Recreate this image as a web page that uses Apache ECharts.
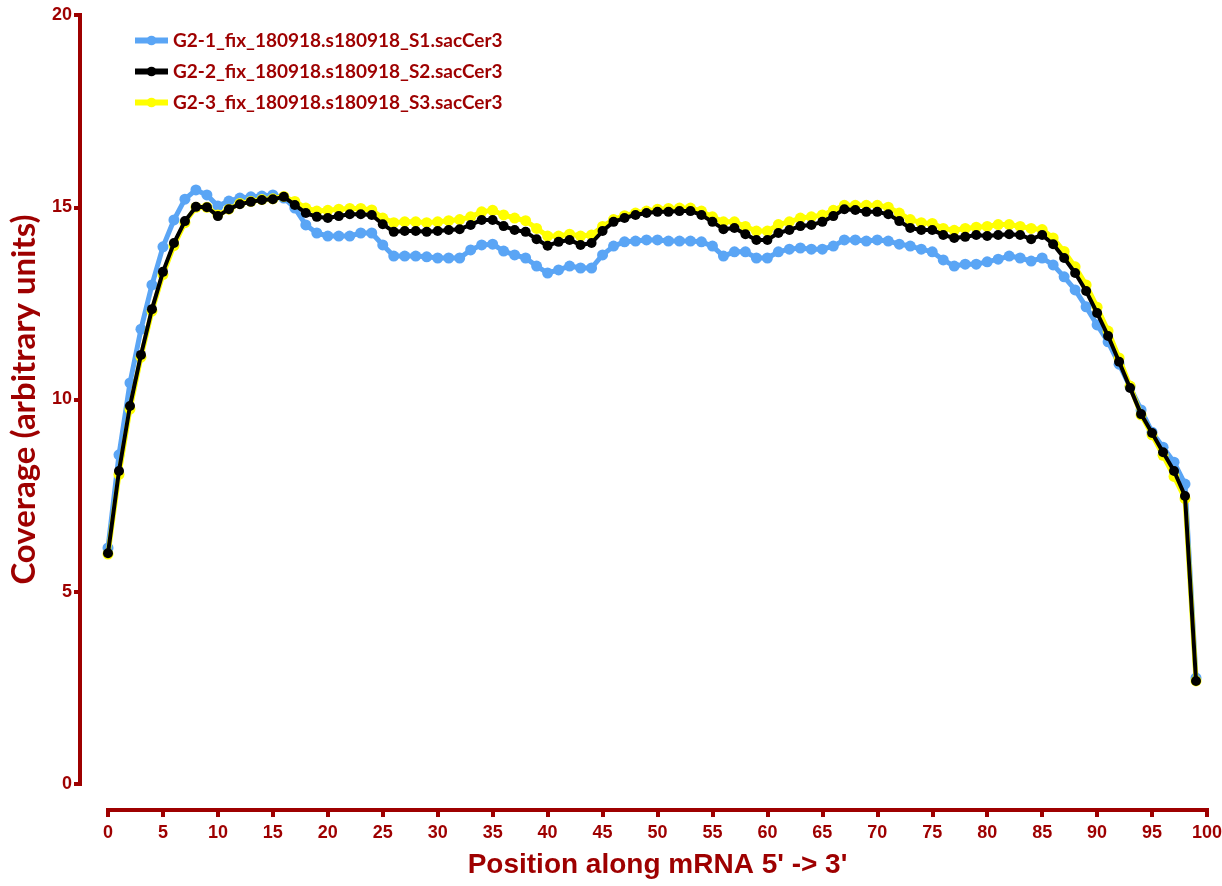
<!DOCTYPE html>
<html>
<head>
<meta charset="utf-8">
<title>Coverage along mRNA</title>
<script src="https://cdn.jsdelivr.net/npm/echarts@6/dist/echarts.min.js"></script>
<style>
  html, body { margin: 0; padding: 0; background: #fff; }
  #chart { width: 1222px; height: 886px; }
</style>
</head>
<body>
<div id="chart"></div>
<script>
// position along mRNA (0..99)
var positions = [];
for (var i = 0; i < 100; i++) positions.push(i);

var seriesNames = [
  'G2-1_fix_180918.s180918_S1.sacCer3',
  'G2-2_fix_180918.s180918_S2.sacCer3',
  'G2-3_fix_180918.s180918_S3.sacCer3'
];

var s1 = [6.14, 8.56, 10.43, 11.83, 12.98, 13.97, 14.67, 15.21, 15.45, 15.32,
  15.03, 15.16, 15.24, 15.27, 15.29, 15.32, 15.24, 14.98, 14.54, 14.33,
  14.25, 14.25, 14.25, 14.33, 14.33, 14.02, 13.73, 13.73, 13.73, 13.71,
  13.68, 13.68, 13.68, 13.89, 14.02, 14.04, 13.86, 13.76, 13.68, 13.47,
  13.29, 13.37, 13.47, 13.42, 13.42, 13.76, 13.99, 14.10, 14.12, 14.15,
  14.15, 14.12, 14.12, 14.12, 14.10, 13.99, 13.73, 13.84, 13.84, 13.68,
  13.68, 13.84, 13.91, 13.94, 13.91, 13.91, 13.99, 14.15, 14.15, 14.12,
  14.15, 14.12, 14.04, 13.99, 13.91, 13.84, 13.63, 13.47, 13.52, 13.52,
  13.58, 13.65, 13.73, 13.68, 13.60, 13.68, 13.50, 13.19, 12.85, 12.41,
  11.94, 11.50, 10.92, 10.33, 9.73, 9.15, 8.76, 8.37, 7.80, 2.76];

var s2 = [6.00, 8.14, 9.83, 11.16, 12.35, 13.32, 14.07, 14.64, 15.01, 15.00,
  14.77, 14.95, 15.08, 15.14, 15.19, 15.21, 15.27, 15.06, 14.85, 14.75,
  14.72, 14.77, 14.82, 14.82, 14.80, 14.56, 14.36, 14.38, 14.38, 14.36,
  14.38, 14.41, 14.43, 14.54, 14.67, 14.67, 14.51, 14.41, 14.36, 14.17,
  14.00, 14.10, 14.15, 14.02, 14.07, 14.38, 14.62, 14.72, 14.80, 14.85,
  14.88, 14.88, 14.90, 14.90, 14.80, 14.62, 14.43, 14.46, 14.30, 14.15,
  14.15, 14.33, 14.41, 14.51, 14.54, 14.62, 14.77, 14.95, 14.93, 14.88,
  14.88, 14.82, 14.64, 14.46, 14.41, 14.41, 14.28, 14.20, 14.23, 14.28,
  14.25, 14.28, 14.30, 14.28, 14.17, 14.28, 14.04, 13.68, 13.29, 12.82,
  12.25, 11.65, 10.98, 10.30, 9.62, 9.13, 8.63, 8.14, 7.49, 2.68];

var s3 = [5.98, 8.05, 9.75, 11.10, 12.30, 13.25, 14.00, 14.60, 15.00, 15.00,
  14.80, 14.95, 15.10, 15.15, 15.20, 15.22, 15.28, 15.15, 14.98, 14.90,
  14.92, 14.95, 14.97, 14.97, 14.93, 14.72, 14.60, 14.62, 14.62, 14.60,
  14.62, 14.65, 14.68, 14.75, 14.88, 14.92, 14.80, 14.72, 14.65, 14.45,
  14.25, 14.25, 14.30, 14.25, 14.28, 14.50, 14.68, 14.78, 14.85, 14.90,
  14.95, 14.97, 14.98, 14.98, 14.90, 14.75, 14.62, 14.62, 14.50, 14.38,
  14.38, 14.55, 14.62, 14.72, 14.75, 14.80, 14.92, 15.05, 15.05, 15.05,
  15.05, 15.00, 14.85, 14.68, 14.60, 14.58, 14.45, 14.40, 14.45, 14.48,
  14.50, 14.55, 14.55, 14.50, 14.45, 14.42, 14.20, 13.85, 13.45, 12.98,
  12.40, 11.78, 11.08, 10.35, 9.60, 9.08, 8.55, 8.00, 7.42, 2.68];

var colors = ['#5AA5F5', '#000000', '#FFFF00'];
var axisRed = '#9E0000';

function pairs(arr) {
  var out = [];
  for (var k = 0; k < arr.length; k++) out.push([positions[k], arr[k]]);
  return out;
}

var chart = echarts.init(document.getElementById('chart'));

var lineSeries = [s1, s2, s3].map(function (vals, idx) {
  return {
    name: seriesNames[idx],
    type: 'line',
    data: pairs(vals),
    symbol: 'circle',
    symbolSize: idx === 1 ? 10 : 11,
    z: idx === 1 ? 4 : (idx === 2 ? 3 : 2),
    lineStyle: { width: idx === 1 ? 4 : 5, color: colors[idx] },
    itemStyle: { color: colors[idx] },
    animation: false
  };
});

var option = {
  backgroundColor: '#fff',
  color: colors,
  grid: { left: 108, right: 15, top: 15, bottom: 102, outerBoundsMode: 'none', containLabel: false },
  legend: {
    orient: 'vertical',
    left: 127,
    top: 26,
    itemGap: 12,
    itemWidth: 33,
    itemHeight: 12,
    lineStyle: { width: 6 },
    textStyle: { color: axisRed, fontWeight: 'bold', fontSize: 19, fontFamily: 'Lato' },
    data: seriesNames
  },
  xAxis: {
    type: 'value',
    min: 0,
    max: 100,
    interval: 5,
    offset: 26,
    name: "Position along mRNA 5' -> 3'",
    nameLocation: 'middle',
    nameGap: 41,
    nameTextStyle: { color: axisRed, fontSize: 28, fontWeight: 'bold', fontFamily: 'Liberation Sans' },
    axisLine: { onZero: false, lineStyle: { color: axisRed, width: 4, cap: 'square' } },
    axisTick: { length: 7, lineStyle: { color: axisRed, width: 4 } },
    axisLabel: { color: axisRed, fontSize: 18, fontWeight: 'bold', fontFamily: 'Liberation Sans', margin: 14 },
    splitLine: { show: false }
  },
  yAxis: {
    type: 'value',
    min: 0,
    max: 20,
    interval: 5,
    offset: 28,
    name: 'Coverage (arbitrary units)',
    nameLocation: 'middle',
    nameGap: 34,
    nameTextStyle: { color: axisRed, fontSize: 33, fontWeight: 'bold', fontFamily: 'Lato' },
    axisLine: { show: true, onZero: false, lineStyle: { color: axisRed, width: 4, cap: 'square' } },
    axisTick: { show: true, length: 6, lineStyle: { color: axisRed, width: 4 } },
    axisLabel: { color: axisRed, fontSize: 18, fontWeight: 'bold', fontFamily: 'Liberation Sans', margin: 8 },
    splitLine: { show: false }
  },
  series: lineSeries
};

chart.setOption(option);
</script>
</body>
</html>
